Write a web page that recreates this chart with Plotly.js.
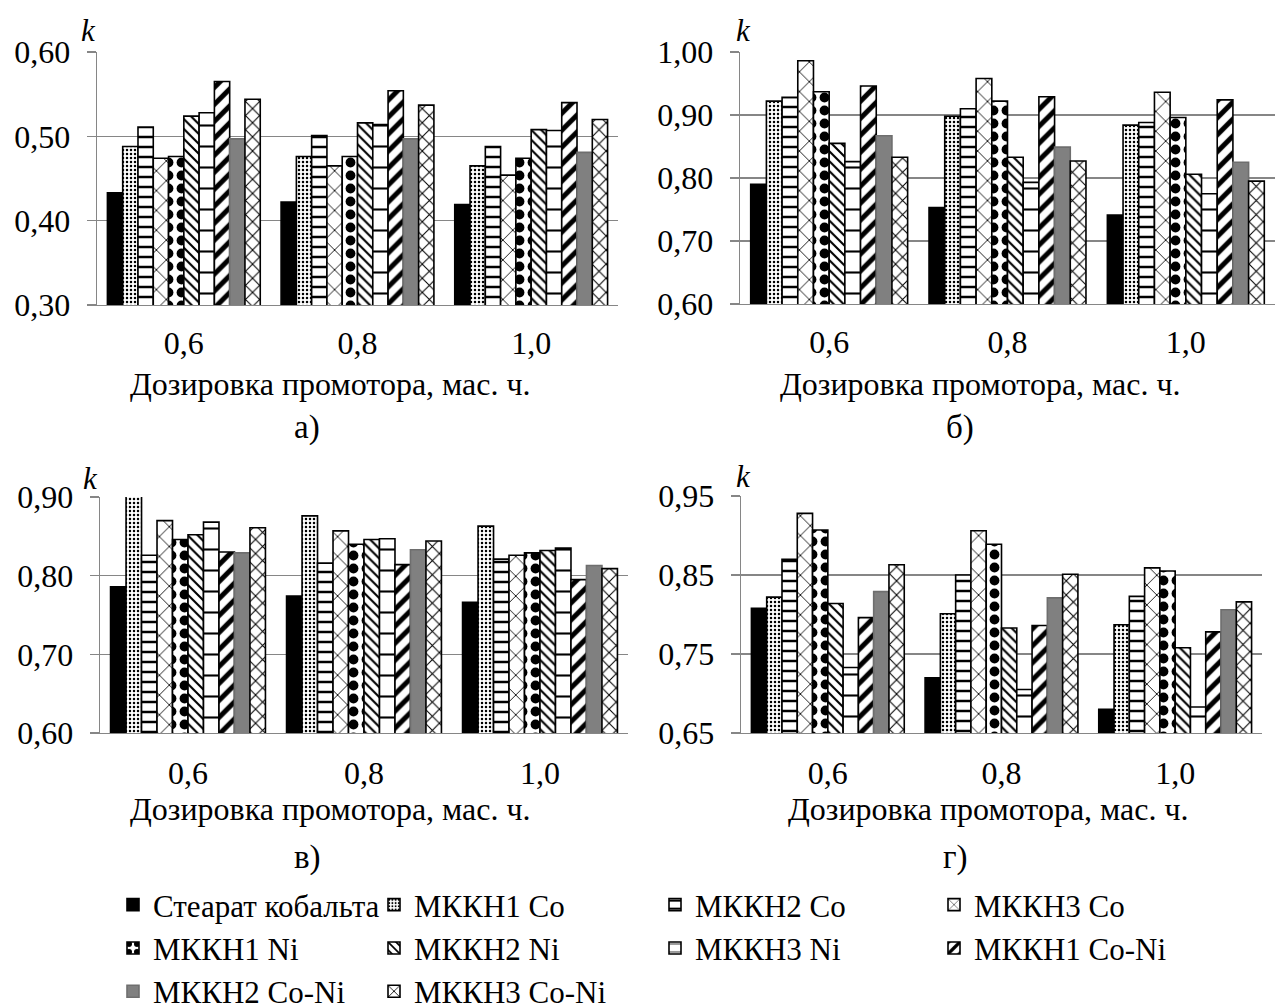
<!DOCTYPE html>
<html>
<head>
<meta charset="utf-8">
<script src="https://cdn.plot.ly/plotly-3.0.1.min.js"></script>
<style>
  html, body { margin: 0; padding: 0; background: #fff; overflow: hidden; }
  #chart { width: 1275px; height: 1008px; }
</style>
</head>
<body>
<div id="chart"></div>
<script>
// ---- data ----
const categories = ['0,6', '0,8', '1,0'];
const seriesNames = ['Стеарат кобальта', 'МККН1 Co', 'МККН2 Co', 'МККН3 Co', 'МККН1 Ni',
                     'МККН2 Ni', 'МККН3 Ni', 'МККН1 Co-Ni', 'МККН2 Co-Ni', 'МККН3 Co-Ni'];
// a)
const kA = [
  [0.433, 0.422, 0.419], [0.488, 0.476, 0.465], [0.511, 0.501, 0.488], [0.474, 0.465, 0.454],
  [0.476, 0.476, 0.474], [0.524, 0.516, 0.508], [0.528, 0.514, 0.507], [0.565, 0.554, 0.540],
  [0.497, 0.497, 0.481], [0.544, 0.537, 0.520]
];
// б)
const kB = [
  [0.790, 0.753, 0.741], [0.922, 0.898, 0.884], [0.928, 0.910, 0.888], [0.986, 0.958, 0.936],
  [0.937, 0.922, 0.896], [0.855, 0.833, 0.806], [0.826, 0.793, 0.775], [0.946, 0.929, 0.924],
  [0.867, 0.849, 0.825], [0.833, 0.827, 0.795]
];
// в)
const kC = [
  [0.786, 0.774, 0.766], [0.910, 0.876, 0.863], [0.826, 0.816, 0.821], [0.870, 0.857, 0.826],
  [0.846, 0.840, 0.829], [0.852, 0.846, 0.832], [0.868, 0.847, 0.835], [0.830, 0.814, 0.795],
  [0.829, 0.833, 0.813], [0.861, 0.844, 0.809]
];
// г)
const kD = [
  [0.808, 0.720, 0.680], [0.822, 0.801, 0.787], [0.870, 0.850, 0.823], [0.928, 0.906, 0.859],
  [0.907, 0.889, 0.855], [0.814, 0.783, 0.758], [0.733, 0.705, 0.683], [0.796, 0.786, 0.778],
  [0.829, 0.821, 0.806], [0.863, 0.851, 0.816]
];
const yRanges = [[0.30, 0.60], [0.60, 1.00], [0.60, 0.90], [0.65, 0.95]];
const panelLabels = ['а)', 'б)', 'в)', 'г)'];
const xTitle = 'Дозировка промотора, мас. ч.';

// ---- styles ----
const FONT = 'Liberation Serif, Times New Roman, serif';
const GRID = '#868686';
const styles = [
  {color: '#000000', line: '#000000', pattern: null},
  {color: '#ffffff', line: '#000000', pattern: {shape: '.', size: 4, solidity: 0.3}},
  {color: '#ffffff', line: '#000000', pattern: {shape: '-', size: 10, solidity: 0.25}},
  {color: '#ffffff', line: '#000000', pattern: {shape: 'x', size: 14, solidity: 0.12}},
  {color: '#ffffff', line: '#000000', pattern: {shape: '.', size: 13, solidity: 0.45}},
  {color: '#ffffff', line: '#000000', pattern: {shape: '\\', size: 7, solidity: 0.3}},
  {color: '#ffffff', line: '#000000', pattern: {shape: '-', size: 21, solidity: 0.1}},
  {color: '#ffffff', line: '#000000', pattern: {shape: '/', size: 12, solidity: 0.42}},
  {color: '#808080', line: '#6e6e6e', pattern: null},
  {color: '#ffffff', line: '#000000', pattern: {shape: 'x', size: 10, solidity: 0.2}}
];
const legendOf = ['legend', 'legend2', 'legend3', 'legend4',
                  'legend', 'legend2', 'legend3', 'legend4',
                  'legend', 'legend2'];

const panels = [kA, kB, kC, kD];
const axisIds = [['x', 'y'], ['x2', 'y2'], ['x3', 'y3'], ['x4', 'y4']];
const traces = [];
panels.forEach((data, p) => {
  data.forEach((vals, s) => {
    const st = styles[s];
    const marker = {color: st.color, line: {color: st.line, width: 1.6}};
    if (st.pattern) {
      marker.pattern = Object.assign({fgcolor: '#000000', bgcolor: '#ffffff', fillmode: 'replace'}, st.pattern);
    }
    traces.push({
      type: 'bar', x: categories, y: vals, name: seriesNames[s],
      xaxis: axisIds[p][0], yaxis: axisIds[p][1],
      marker: marker, showlegend: p === 0, legend: legendOf[s],
      legendgroup: 'g' + s, hoverinfo: 'skip'
    });
  });
});

const W = 1275, H = 1008;
function dx(a, b) { return [a / W, b / W]; }
function dy(top, bottom) { return [1 - bottom / H, 1 - top / H]; }
const xDom = [dx(97, 618), dx(740, 1275), dx(100, 628), dx(741, 1262)];
const yDom = [dy(52, 305), dy(52, 304), dy(497, 733), dy(496, 733)];

const layout = {
  width: W, height: H,
  margin: {l: 0, r: 0, t: 0, b: 0, autoexpand: false},
  paper_bgcolor: '#ffffff', plot_bgcolor: '#ffffff',
  separators: ', ',
  barmode: 'group', bargap: 0.12, bargroupgap: 0,
  font: {family: FONT, size: 32, color: '#000000'},
  showlegend: true,
  annotations: []
};
const kPos = [[88, 30], [743, 30], [91, 478], [743, 476]];
const titlePos = [[331, 384], [980, 384], [331, 809], [989, 809]];
const labelPos = [[307, 427], [960, 427], [307, 857], [955, 857]];
for (let p = 0; p < 4; p++) {
  const sx = p === 0 ? '' : String(p + 1);
  layout['xaxis' + sx] = {
    domain: xDom[p], anchor: 'y' + sx, type: 'category',
    showline: true, linecolor: GRID, linewidth: 1.3, showgrid: false,
    ticks: '', tickfont: {family: FONT, size: 32}, ticklabelstandoff: p < 2 ? 9 : 11,
    fixedrange: true
  };
  layout['yaxis' + sx] = {
    domain: yDom[p], anchor: 'x' + sx, range: yRanges[p], dtick: 0.1, tick0: yRanges[p][0],
    tickformat: '.2f', showline: true, linecolor: GRID, linewidth: 1.3,
    showgrid: true, gridcolor: GRID, gridwidth: 1.3, zeroline: false,
    ticks: 'outside', ticklen: 9, tickcolor: GRID, tickwidth: 1.3,
    tickfont: {family: FONT, size: 32}, ticklabelstandoff: 10, fixedrange: true
  };
  layout.annotations.push({
    xref: 'paper', yref: 'paper', x: kPos[p][0] / W, y: 1 - kPos[p][1] / H,
    text: '<i>k</i>', showarrow: false, xanchor: 'center', yanchor: 'middle',
    font: {family: FONT, size: 31}
  });
  layout.annotations.push({
    xref: 'paper', yref: 'paper', x: titlePos[p][0] / W, y: 1 - titlePos[p][1] / H,
    text: xTitle, showarrow: false, xanchor: 'center', yanchor: 'middle',
    font: {family: FONT, size: 32}
  });
  layout.annotations.push({
    xref: 'paper', yref: 'paper', x: labelPos[p][0] / W, y: 1 - labelPos[p][1] / H,
    text: panelLabels[p], showarrow: false, xanchor: 'center', yanchor: 'middle',
    font: {family: FONT, size: 33}
  });
}
const legendX = [113, 374, 655, 934];
['legend', 'legend2', 'legend3', 'legend4'].forEach((id, i) => {
  layout[id] = {
    x: legendX[i] / W, y: 1 - 878 / H, xanchor: 'left', yanchor: 'top',
    orientation: 'v', bgcolor: 'rgba(0,0,0,0)', borderwidth: 0,
    font: {family: FONT, size: 31, color: '#000000'},
    traceorder: 'grouped', tracegroupgap: 0, itemclick: false, itemdoubleclick: false
  };
});

Plotly.newPlot('chart', traces, layout, {staticPlot: true, displayModeBar: false});
</script>
</body>
</html>
